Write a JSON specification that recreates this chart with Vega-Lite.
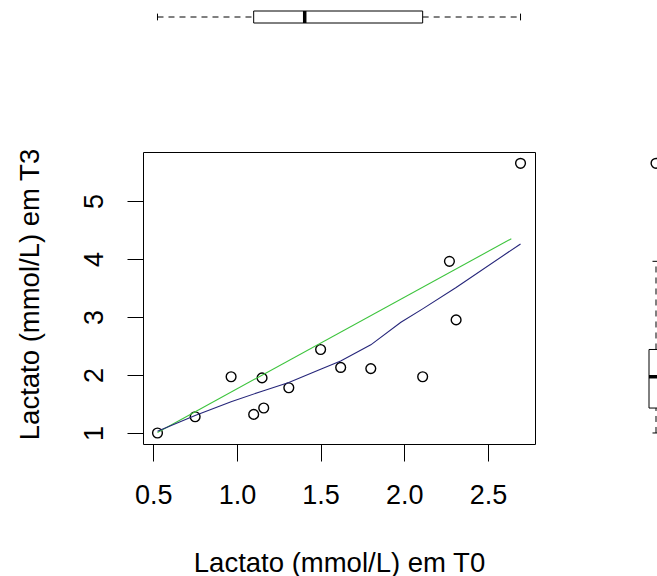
{
  "$schema": "https://vega.github.io/schema/vega-lite/v6.json",
  "padding": {"left": 15, "top": 5, "right": 0, "bottom": 0},
  "background": "white",
  "config": {
    "font": "Liberation Sans",
    "view": {"stroke": null},
    "axis": {
      "grid": false,
      "domain": false,
      "labelColor": "black",
      "tickColor": "black",
      "titleColor": "black",
      "labelFont": "Liberation Sans",
      "titleFont": "Liberation Sans",
      "titleFontWeight": "normal",
      "labelFontSize": 27,
      "titleFontSize": 27.5,
      "labelFlush": false,
      "labelOverlap": false
    }
  },
  "datasets": {
    "points": [
      {"t0": 0.525, "t3": 1.00},
      {"t0": 0.75, "t3": 1.28},
      {"t0": 0.965, "t3": 1.97},
      {"t0": 1.10, "t3": 1.32},
      {"t0": 1.16, "t3": 1.43},
      {"t0": 1.15, "t3": 1.95},
      {"t0": 1.31, "t3": 1.78},
      {"t0": 1.50, "t3": 2.44},
      {"t0": 1.62, "t3": 2.13},
      {"t0": 1.80, "t3": 2.11},
      {"t0": 2.11, "t3": 1.97},
      {"t0": 2.27, "t3": 3.96},
      {"t0": 2.31, "t3": 2.95},
      {"t0": 2.695, "t3": 5.65}
    ],
    "linear": [
      {"t0": 0.525, "t3": 1.01},
      {"t0": 2.64, "t3": 4.35}
    ],
    "smooth": [
      {"t0": 0.525, "t3": 1.03},
      {"t0": 0.75, "t3": 1.30},
      {"t0": 0.965, "t3": 1.54},
      {"t0": 1.15, "t3": 1.72},
      {"t0": 1.31, "t3": 1.87},
      {"t0": 1.50, "t3": 2.10},
      {"t0": 1.62, "t3": 2.24},
      {"t0": 1.80, "t3": 2.52},
      {"t0": 1.98, "t3": 2.91},
      {"t0": 2.11, "t3": 3.14},
      {"t0": 2.31, "t3": 3.51},
      {"t0": 2.695, "t3": 4.26}
    ],
    "boxT0": [
      {"lower": 0.525, "q1": 1.10, "median": 1.405, "q3": 2.11, "upper": 2.695}
    ],
    "boxT3": [
      {"lower": 1.00, "q1": 1.43, "median": 1.97, "q3": 2.44, "upper": 3.96}
    ],
    "outT3": [
      {"t3": 5.65}
    ]
  },
  "bounds": "flush",
  "spacing": 123,
  "vconcat": [
    {
      "width": 392,
      "height": 24,
      "data": {"name": "boxT0"},
      "layer": [
        {
          "mark": {"type": "rule", "color": "black", "strokeWidth": 1, "strokeDash": [6, 5]},
          "encoding": {
            "x": {"field": "lower", "type": "quantitative", "scale": {"domain": [0.4384, 2.7815], "nice": false, "zero": false}, "axis": null},
            "x2": {"field": "q1"},
            "y": {"datum": 0.5, "type": "quantitative", "scale": {"domain": [0, 1], "nice": false, "zero": false}, "axis": null}
          }
        },
        {
          "mark": {"type": "rule", "color": "black", "strokeWidth": 1, "strokeDash": [6, 5]},
          "encoding": {
            "x": {"field": "q3", "type": "quantitative"},
            "x2": {"field": "upper"},
            "y": {"datum": 0.5, "type": "quantitative"}
          }
        },
        {
          "mark": {"type": "rule", "color": "black", "strokeWidth": 1},
          "encoding": {
            "x": {"field": "lower", "type": "quantitative"},
            "y": {"datum": 0.36, "type": "quantitative"},
            "y2": {"datum": 0.64}
          }
        },
        {
          "mark": {"type": "rule", "color": "black", "strokeWidth": 1},
          "encoding": {
            "x": {"field": "upper", "type": "quantitative"},
            "y": {"datum": 0.36, "type": "quantitative"},
            "y2": {"datum": 0.64}
          }
        },
        {
          "mark": {"type": "rect", "fill": "white", "stroke": "black", "strokeWidth": 1},
          "encoding": {
            "x": {"field": "q1", "type": "quantitative"},
            "x2": {"field": "q3"},
            "y": {"datum": 0.25, "type": "quantitative"},
            "y2": {"datum": 0.75}
          }
        },
        {
          "mark": {"type": "rule", "color": "black", "strokeWidth": 3.5},
          "encoding": {
            "x": {"field": "median", "type": "quantitative"},
            "y": {"datum": 0.25, "type": "quantitative"},
            "y2": {"datum": 0.75}
          }
        }
      ]
    },
    {
      "bounds": "flush",
      "spacing": 108,
      "hconcat": [
        {
          "width": 392,
          "height": 292,
          "view": {"stroke": "black", "strokeWidth": 1},
          "encoding": {
            "x": {
              "field": "t0",
              "type": "quantitative",
              "scale": {"domain": [0.4384, 2.7815], "nice": false, "zero": false},
              "axis": {
                "title": "Lactato (mmol/L) em T0",
                "values": [0.5, 1.0, 1.5, 2.0, 2.5],
                "format": ".1f",
                "tickSize": 17,
                "labelPadding": 42,
                "labelBaseline": "alphabetic",
                "titleBaseline": "alphabetic",
                "titleAnchor": "middle",
                "titleX": 196,
                "titleY": 127
              }
            },
            "y": {
              "field": "t3",
              "type": "quantitative",
              "scale": {"domain": [0.81, 5.845], "nice": false, "zero": false},
              "axis": {
                "title": "Lactato (mmol/L) em T3",
                "values": [1, 2, 3, 4, 5],
                "format": "d",
                "tickSize": 16,
                "labelPadding": 25,
                "labelAngle": -90,
                "labelAlign": "center",
                "labelBaseline": "alphabetic",
                "titleAngle": -90,
                "titleAlign": "center",
                "titleBaseline": "alphabetic",
                "titleX": -105,
                "titleY": 142
              }
            }
          },
          "layer": [
            {
              "data": {"name": "points"},
              "mark": {"type": "point", "shape": "circle", "filled": false, "color": "black", "strokeWidth": 1.4, "size": 95, "opacity": 1}
            },
            {
              "data": {"name": "linear"},
              "mark": {"type": "line", "color": "#3dc43d", "strokeWidth": 1.1}
            },
            {
              "data": {"name": "smooth"},
              "mark": {"type": "line", "color": "#26267a", "strokeWidth": 1.1}
            }
          ]
        },
        {
          "width": 15,
          "height": 292,
          "layer": [
            {
              "data": {"name": "boxT3"},
              "mark": {"type": "rule", "color": "black", "strokeWidth": 1, "strokeDash": [6, 5]},
              "encoding": {
                "y": {"field": "lower", "type": "quantitative", "scale": {"domain": [0.81, 5.845], "nice": false, "zero": false}, "axis": null},
                "y2": {"field": "q1"},
                "x": {"datum": 0.867, "type": "quantitative", "scale": {"domain": [0, 1], "nice": false, "zero": false}, "axis": null}
              }
            },
            {
              "data": {"name": "boxT3"},
              "mark": {"type": "rule", "color": "black", "strokeWidth": 1, "strokeDash": [6, 5]},
              "encoding": {
                "y": {"field": "q3", "type": "quantitative"},
                "y2": {"field": "upper"},
                "x": {"datum": 0.867, "type": "quantitative"}
              }
            },
            {
              "data": {"name": "boxT3"},
              "mark": {"type": "rule", "color": "black", "strokeWidth": 1, "clip": true},
              "encoding": {
                "y": {"field": "lower", "type": "quantitative"},
                "x": {"datum": 0.633, "type": "quantitative"},
                "x2": {"datum": 1.1}
              }
            },
            {
              "data": {"name": "boxT3"},
              "mark": {"type": "rule", "color": "black", "strokeWidth": 1, "clip": true},
              "encoding": {
                "y": {"field": "upper", "type": "quantitative"},
                "x": {"datum": 0.633, "type": "quantitative"},
                "x2": {"datum": 1.1}
              }
            },
            {
              "data": {"name": "boxT3"},
              "mark": {"type": "rect", "fill": "white", "stroke": "black", "strokeWidth": 1, "clip": true},
              "encoding": {
                "y": {"field": "q1", "type": "quantitative"},
                "y2": {"field": "q3"},
                "x": {"datum": 0.4, "type": "quantitative"},
                "x2": {"datum": 1.333}
              }
            },
            {
              "data": {"name": "boxT3"},
              "mark": {"type": "rule", "color": "black", "strokeWidth": 3.5, "clip": true},
              "encoding": {
                "y": {"field": "median", "type": "quantitative"},
                "x": {"datum": 0.4, "type": "quantitative"},
                "x2": {"datum": 1.333}
              }
            },
            {
              "data": {"name": "outT3"},
              "mark": {"type": "point", "shape": "circle", "filled": false, "color": "black", "strokeWidth": 1.4, "size": 95, "opacity": 1, "clip": true},
              "encoding": {
                "y": {"field": "t3", "type": "quantitative"},
                "x": {"datum": 0.867, "type": "quantitative"}
              }
            }
          ]
        }
      ]
    }
  ]
}
